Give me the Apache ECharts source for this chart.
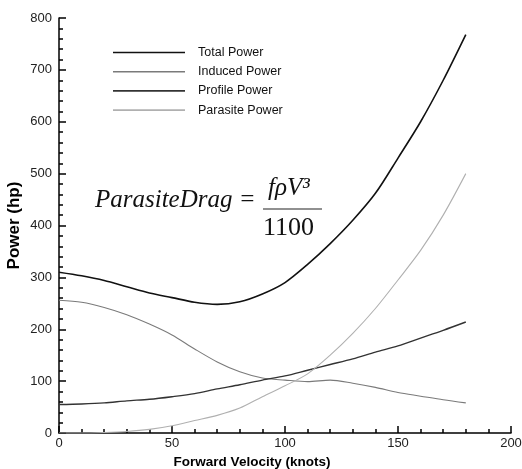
<!DOCTYPE html>
<html>
<head>
<meta charset="utf-8">
<script src="https://cdn.jsdelivr.net/npm/echarts@6/dist/echarts.min.js"></script>
<style>
  html, body { margin: 0; padding: 0; background: #fff; }
  #chart { width: 522px; height: 469px; }
</style>
</head>
<body>
<div id="chart"></div>
<script>
// forward velocity (knots)
const velocity = [0, 10, 20, 30, 40, 50, 60, 70, 80, 90, 100, 110, 120, 130, 140, 150, 160, 170, 180];
// power (hp)
const totalPower = [310, 303, 294, 282, 270, 261, 252, 248, 253, 268, 290, 325, 365, 410, 462, 530, 600, 680, 768];
const inducedPower = [256, 252, 242, 228, 210, 189, 162, 137, 118, 106, 102, 99, 102, 96, 88, 78, 71, 64, 58];
const profilePower = [55, 56, 58, 62, 65, 70, 76, 85, 93, 102, 110, 121, 132, 143, 156, 168, 183, 198, 214];
const parasitePower = [0, 0, 1, 3, 7, 14, 24, 34, 48, 70, 91, 114, 150, 192, 240, 295, 352, 420, 500];
const seriesNames = ['Total Power', 'Induced Power', 'Profile Power', 'Parasite Power'];

const pairs = ys => velocity.map((v, i) => [v, ys[i]]);

const chart = echarts.init(document.getElementById('chart'));
const font = 'Liberation Sans';

function line(name, data, color, width) {
  return {
    name: name,
    type: 'line',
    data: pairs(data),
    smooth: 0.3,
    symbol: 'none',
    lineStyle: {color: color, width: width},
    itemStyle: {color: color}
  };
}

chart.setOption({
  animation: false,
  grid: {left: 59, right: 11, top: 18, bottom: 36, outerBoundsMode: 'none'},
  legend: {
    orient: 'vertical',
    left: 108,
    top: 41,
    icon: 'rect',
    itemWidth: 72,
    itemHeight: 1.6,
    itemGap: 6.2,
    data: seriesNames,
    textStyle: {fontFamily: font, fontSize: 12.5, color: '#111', padding: [0, 0, 0, 8]}
  },
  xAxis: {
    type: 'value',
    min: 0,
    max: 200,
    interval: 50,
    name: 'Forward Velocity (knots)',
    nameLocation: 'middle',
    nameGap: 21,
    nameTextStyle: {fontFamily: font, fontSize: 13.5, fontWeight: 'bold', color: '#000', padding: [0, 66, 0, 0]},
    axisLine: {lineStyle: {color: '#000', width: 1.5}},
    axisTick: {inside: true, length: 7, lineStyle: {color: '#000', width: 1.5}},
    minorTick: {show: true, splitNumber: 5, length: 4, lineStyle: {color: '#000', width: 1.5}},
    axisLabel: {fontFamily: font, fontSize: 13, color: '#222', margin: 4},
    splitLine: {show: false}
  },
  yAxis: {
    type: 'value',
    min: 0,
    max: 800,
    interval: 100,
    name: 'Power (hp)',
    nameLocation: 'middle',
    nameGap: 36,
    nameMoveOverlap: false,
    nameTextStyle: {fontFamily: font, fontSize: 17, fontWeight: 'bold', color: '#000'},
    axisLine: {show: true, lineStyle: {color: '#000', width: 1.5}},
    axisTick: {show: true, inside: true, length: 7, lineStyle: {color: '#000', width: 1.5}},
    minorTick: {show: true, splitNumber: 5, length: 4, lineStyle: {color: '#000', width: 1.5}},
    axisLabel: {fontFamily: font, fontSize: 13, color: '#222', margin: 7},
    splitLine: {show: false}
  },
  graphic: [
    {type: 'text', left: 95, top: 188,
      style: {text: 'ParasiteDrag =', font: 'italic 25px "Liberation Serif"', fill: '#111'}},
    {type: 'text', left: 268, top: 176,
      style: {text: 'fρV³', font: 'italic 25px "Liberation Serif"', fill: '#111'}},
    {type: 'line', shape: {x1: 263, y1: 209, x2: 322, y2: 209},
      style: {stroke: '#222', lineWidth: 1.2}},
    {type: 'text', left: 263, top: 215,
      style: {text: '1100', font: '26px "Liberation Serif"', fill: '#111'}}
  ],
  series: [
    line(seriesNames[0], totalPower, '#111', 1.6),
    line(seriesNames[1], inducedPower, '#7a7a7a', 1.1),
    line(seriesNames[2], profilePower, '#333', 1.4),
    line(seriesNames[3], parasitePower, '#b0b0b0', 1.1)
  ]
});
</script>
</body>
</html>
